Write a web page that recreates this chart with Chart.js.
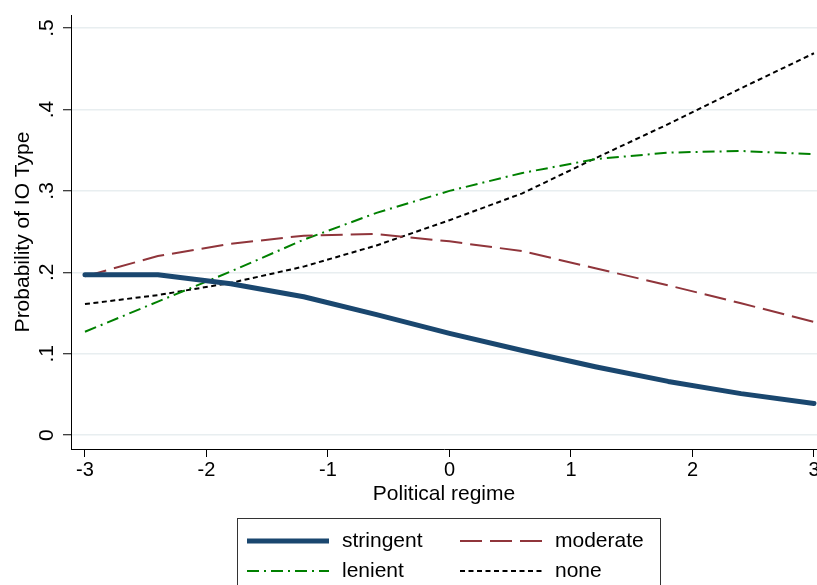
<!DOCTYPE html>
<html>
<head>
<meta charset="utf-8">
<script src="https://cdn.jsdelivr.net/npm/chart.js@4.4.1/dist/chart.umd.min.js"></script>
<style>
  body { margin: 0; background: #fff; }
  canvas { display: block; }
</style>
</head>
<body>
<canvas id="ioChart" width="817" height="585"></canvas>
<script>
// ===== data =====
const regimeValues = [-3, -2.4, -1.8, -1.2, -0.6, 0, 0.6, 1.2, 1.8, 2.4, 3];
const stringentProb = [0.197, 0.197, 0.186, 0.170, 0.148, 0.125, 0.104, 0.084, 0.066, 0.051, 0.039];
const moderateProb  = [0.195, 0.220, 0.235, 0.245, 0.247, 0.238, 0.226, 0.205, 0.184, 0.162, 0.139];
const lenientProb   = [0.127, 0.164, 0.201, 0.240, 0.273, 0.300, 0.322, 0.339, 0.347, 0.349, 0.345];
const noneProb      = [0.161, 0.172, 0.187, 0.207, 0.233, 0.264, 0.297, 0.340, 0.382, 0.426, 0.469];

const xTicks = [-3, -2, -1, 0, 1, 2, 3];
const xTickLabels = ['-3', '-2', '-1', '0', '1', '2', '3'];
const yTicks = [0, 0.1, 0.2, 0.3, 0.4, 0.5];
const yTickLabels = ['0', '.1', '.2', '.3', '.4', '.5'];

const FONT = "'Liberation Sans', Arial, Helvetica, sans-serif";

const toPoints = arr => arr.map((v, i) => ({ x: regimeValues[i], y: v }));

// rotated y tick labels + boxed two-column legend, Stata style
const stataExtras = {
    id: 'stataExtras',
    afterDraw(chart) {
        const ctx = chart.ctx;
        const yScale = chart.scales.y;

        ctx.save();
        ctx.fillStyle = '#000';
        ctx.font = `21px ${FONT}`;
        ctx.textAlign = 'center';
        ctx.textBaseline = 'alphabetic';
        yTicks.forEach((v, i) => {
            const py = yScale.getPixelForValue(v);
            ctx.save();
            ctx.translate(53, py);
            ctx.rotate(-Math.PI / 2);
            ctx.fillText(yTickLabels[i], 0, 0);
            ctx.restore();
        });
        ctx.restore();

        // legend
        ctx.save();
        ctx.strokeStyle = '#333';
        ctx.lineWidth = 1;
        ctx.strokeRect(237.5, 518.5, 423, 90);

        const slots = [
            { x: 247, y: 541 }, { x: 460, y: 541 },
            { x: 247, y: 571 }, { x: 460, y: 571 }
        ];
        chart.data.datasets.forEach((ds, i) => {
            const s = slots[i];
            ctx.beginPath();
            ctx.strokeStyle = ds.borderColor;
            ctx.lineWidth = ds.borderWidth;
            ctx.setLineDash(ds.borderDash || []);
            ctx.lineCap = 'butt';
            ctx.moveTo(s.x, s.y);
            ctx.lineTo(s.x + 82, s.y);
            ctx.stroke();
            ctx.setLineDash([]);
            ctx.fillStyle = '#000';
            ctx.font = `21px ${FONT}`;
            ctx.textAlign = 'left';
            ctx.textBaseline = 'middle';
            ctx.fillText(ds.label, s.x + 95, s.y);
        });
        ctx.restore();
    }
};

const ctx = document.getElementById('ioChart').getContext('2d');
const ioChart = new Chart(ctx, {
    type: 'line',
    data: {
        datasets: [
            {
                label: 'stringent',
                data: toPoints(stringentProb),
                borderColor: '#1a476f',
                borderWidth: 5,
                borderCapStyle: 'round',
                borderJoinStyle: 'round',
                pointRadius: 0,
                tension: 0
            },
            {
                label: 'moderate',
                data: toPoints(moderateProb),
                borderColor: '#90353b',
                borderWidth: 2,
                borderDash: [22, 8],
                pointRadius: 0,
                tension: 0
            },
            {
                label: 'lenient',
                data: toPoints(lenientProb),
                borderColor: '#008000',
                borderWidth: 2,
                borderDash: [12, 5, 2, 5],
                pointRadius: 0,
                tension: 0
            },
            {
                label: 'none',
                data: toPoints(noneProb),
                borderColor: '#000000',
                borderWidth: 2,
                borderDash: [5, 3.5],
                pointRadius: 0,
                tension: 0
            }
        ]
    },
    options: {
        responsive: false,
        animation: false,
        layout: { padding: { top: 15, right: 0, bottom: 77, left: 0 } },
        plugins: {
            legend: { display: false },
            tooltip: { enabled: false }
        },
        scales: {
            x: {
                type: 'linear',
                min: -3.115,
                max: 3.025,
                afterBuildTicks: scale => { scale.ticks = xTicks.map(v => ({ value: v })); },
                afterFit: scale => { scale.height = 59; scale.paddingLeft = 0; scale.paddingRight = 0; },
                grid: { display: true, drawOnChartArea: false, drawTicks: true, tickLength: 8, tickColor: '#000', tickWidth: 1 },
                border: { display: true, color: '#000', width: 1 },
                ticks: {
                    color: '#000',
                    font: { family: FONT, size: 20 },
                    padding: 1,
                    maxRotation: 0,
                    autoSkip: false,
                    callback: (value, index) => xTickLabels[index]
                },
                title: {
                    display: true,
                    text: 'Political regime',
                    color: '#000',
                    font: { family: FONT, size: 21 },
                    padding: { top: 0, bottom: 1 }
                }
            },
            y: {
                min: -0.017,
                max: 0.516,
                afterBuildTicks: scale => { scale.ticks = yTicks.map(v => ({ value: v })); },
                afterFit: scale => { scale.width = 71; scale.paddingTop = 0; scale.paddingBottom = 0; },
                grid: { color: '#e8eef0', lineWidth: 1.5, tickLength: 8, tickColor: '#000', tickWidth: 1 },
                border: { display: true, color: '#000', width: 1 },
                ticks: { display: false },
                title: {
                    display: true,
                    text: 'Probability of IO Type',
                    color: '#000',
                    font: { family: FONT, size: 21 },
                    padding: { top: 11, bottom: 0 }
                }
            }
        }
    },
    plugins: [stataExtras]
});
</script>
</body>
</html>
